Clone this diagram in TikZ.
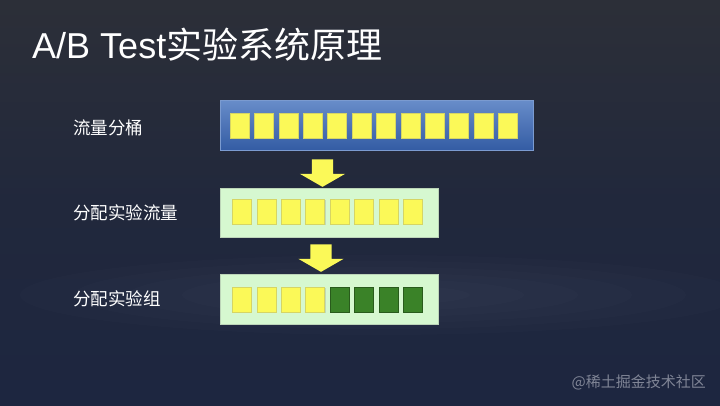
\documentclass[tikz,border=0pt]{standalone}
\usepackage{fontspec}
\setmainfont{Liberation Sans}
\newfontfamily\cjk{Noto Sans CJK SC}
\usetikzlibrary{shapes.arrows,shadows,backgrounds}
\definecolor{bgtop}{RGB}{44,47,56}
\definecolor{bgmid}{RGB}{33,40,60}
\definecolor{bgbot}{RGB}{29,38,64}
\definecolor{barblue}{RGB}{66,112,188}
\definecolor{bardark}{RGB}{52,92,164}
\definecolor{boxgreen}{RGB}{214,248,208}
\definecolor{cellyellow}{RGB}{251,249,88}
\definecolor{cellgreen}{RGB}{58,130,40}
\definecolor{markgray}{RGB}{128,133,150}
\colorlet{Ycolor}{cellyellow}

\begin{document}
\begin{tikzpicture}[x=1pt,y=-1pt]

\shade[top color=bgtop,bottom color=bgbot,middle color=bgmid] (0,0) rectangle (720,405);
\useasboundingbox (0,0) rectangle (720,405);
% faint cloud band
\foreach \r in {10,16,...,40}
  \fill[white,opacity=0.012] (380,295) ellipse [x radius=9*\r, y radius=\r];

\node[text=white,font=\fontsize{36}{36}\selectfont,anchor=west,inner sep=0pt] (title) at (32,45) {A/B Test{\cjk 实验系统原理}};

\begin{scope}[every node/.style={text=white,font=\cjk\fontsize{17.5}{17.5}\selectfont,anchor=west,inner sep=0pt}]
\node (L1) at (73,128) {流量分桶};
\node (L2) at (73,213) {分配实验流量};
\node (L3) at (73,299) {分配实验组};
\end{scope}

\begin{scope}[every node/.style={draw,rectangle,inner sep=0pt,line width=0.6pt}]
\node[top color=barblue!80!white,bottom color=bardark,draw=barblue!70!white,minimum width=313, minimum height=50] (B1) at (376.5,125) {};
\node[fill=boxgreen,draw=boxgreen!70!gray,minimum width=218, minimum height=49] (B2) at (329,212.5) {};
\node[fill=boxgreen,draw=boxgreen!70!gray,minimum width=218, minimum height=50] (B3) at (329,299) {};
\end{scope}

\begin{scope}[every node/.style={draw,rectangle,minimum width=19,minimum height=25,inner sep=0pt,line width=0.5pt,drop shadow={shadow xshift=0.8pt,shadow yshift=-0.8pt,opacity=0.25}}]
\foreach \i in {0,...,11}
  \node[fill=Ycolor,draw=Ycolor!70!gray] (t\i) at (239.5+24.4*\i,125.5) {};
\foreach \i in {0,...,7}
  \node[fill=Ycolor,draw=Ycolor!70!gray] (m\i) at (242+24.4*\i,212) {};
\foreach \i in {0,...,3}
  \node[fill=Ycolor,draw=Ycolor!70!gray] (g\i) at (242+24.4*\i,299.5) {};
\foreach \i in {4,...,7}
  \node[fill=cellgreen,draw=cellgreen!70!black] (g\i) at (242+24.4*\i,299.5) {};
\end{scope}

\begin{scope}[every node/.style={single arrow,fill=Ycolor,rotate=-90,inner sep=10.5pt,minimum height=26,single arrow head extend=12pt,single arrow tip angle=120}]
\node (A1) at (322.5,170) {};
\node (A2) at (321,255) {};
\end{scope}

\node[text=markgray,font=\cjk\fontsize{15}{15}\selectfont,anchor=east,inner sep=0pt] (mark) at (706,382) {@稀土掘金技术社区};

\end{tikzpicture}
\end{document}
